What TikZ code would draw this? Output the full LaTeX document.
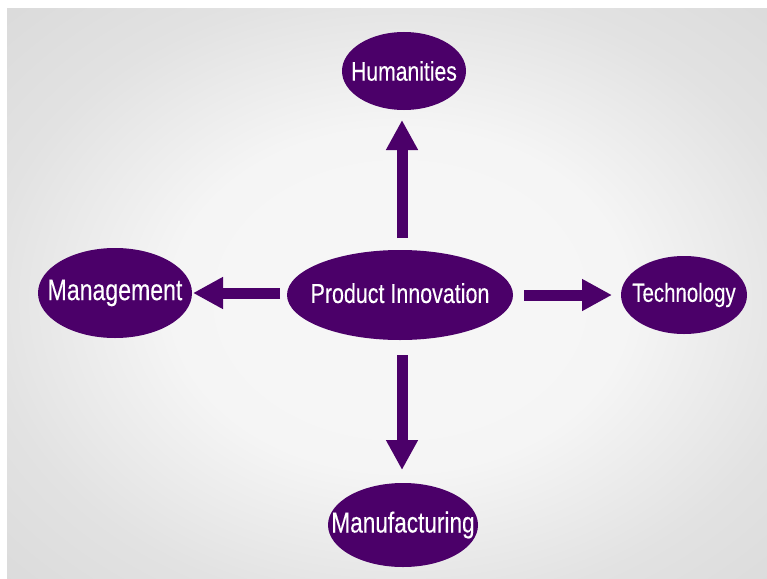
\documentclass[tikz,border=0pt]{standalone}
\usepackage{fontspec}
\setmainfont{Liberation Sans}[FakeStretch=0.78, FakeBold=0.2]
\usetikzlibrary{shapes.geometric,arrows.meta}
\definecolor{purp}{HTML}{4B0069}
\definecolor{bgedge}{HTML}{D6D6D6}
\definecolor{bgmid}{HTML}{E2E2E2}
\definecolor{bgcenter}{HTML}{F6F6F6}
\pgfdeclareradialshading{bgshade}{\pgfpoint{0bp}{0bp}}{%
  color(0bp)=(bgcenter); color(14bp)=(bgcenter!97!bgmid); color(26bp)=(bgmid);
  color(40bp)=(bgedge); color(75bp)=(bgedge)}
\tikzset{
  bubble/.style={ellipse, fill=purp, text=white, inner sep=0pt, outer sep=0pt},
  flow/.style={draw=purp, line width=11pt, line cap=butt,
    -{Triangle[width=30pt,length=30pt]}},
}
\begin{document}
\begin{tikzpicture}[x=1pt,y=-1pt]
\useasboundingbox (0,0) rectangle (767,578);
\fill[white] (0,0) rectangle (767,578);
\begin{scope}
  \clip (7,9) rectangle (767,578);
  \shade[shading=bgshade] (0,0) rectangle (800,600);
\end{scope}
\node[bubble, minimum width=226pt, minimum height=90pt] (pi) at (400,295)
  {\makebox[0pt]{\raisebox{4pt}{\fontsize{27.5}{30}\selectfont Product Innovation}}};
\node[bubble, minimum width=124pt, minimum height=78pt] (hum) at (404,71)
  {\makebox[0pt]{\fontsize{27.1}{30}\selectfont Humanities}};
\node[bubble, minimum width=154pt, minimum height=90pt] (man) at (115,293)
  {\makebox[0pt]{\fontsize{29.6}{30}\selectfont Management}};
\node[bubble, minimum width=126pt, minimum height=78pt] (tec) at (684,295)
  {\makebox[0pt]{\fontsize{26.2}{30}\selectfont Technology}};
\node[bubble, minimum width=150pt, minimum height=84pt] (mfg) at (403,525)
  {\makebox[0pt]{\fontsize{29}{30}\selectfont Manufacturing}};
\coordinate (vx) at (402,0);
\draw[flow, shorten <=12pt, shorten >=10pt] (vx |- pi.north) -- (vx |- hum.south);
\draw[flow, shorten <=15pt, shorten >=13pt] (vx |- pi.south) -- (vx |- mfg.north);
\draw[flow, shorten <=7pt, shorten >=1pt] (pi.west |- man.east) -- (man.east);
\draw[flow, shorten <=11pt, shorten >=9pt] (pi.east) -- (pi.east -| tec.west);
\end{tikzpicture}
\end{document}
